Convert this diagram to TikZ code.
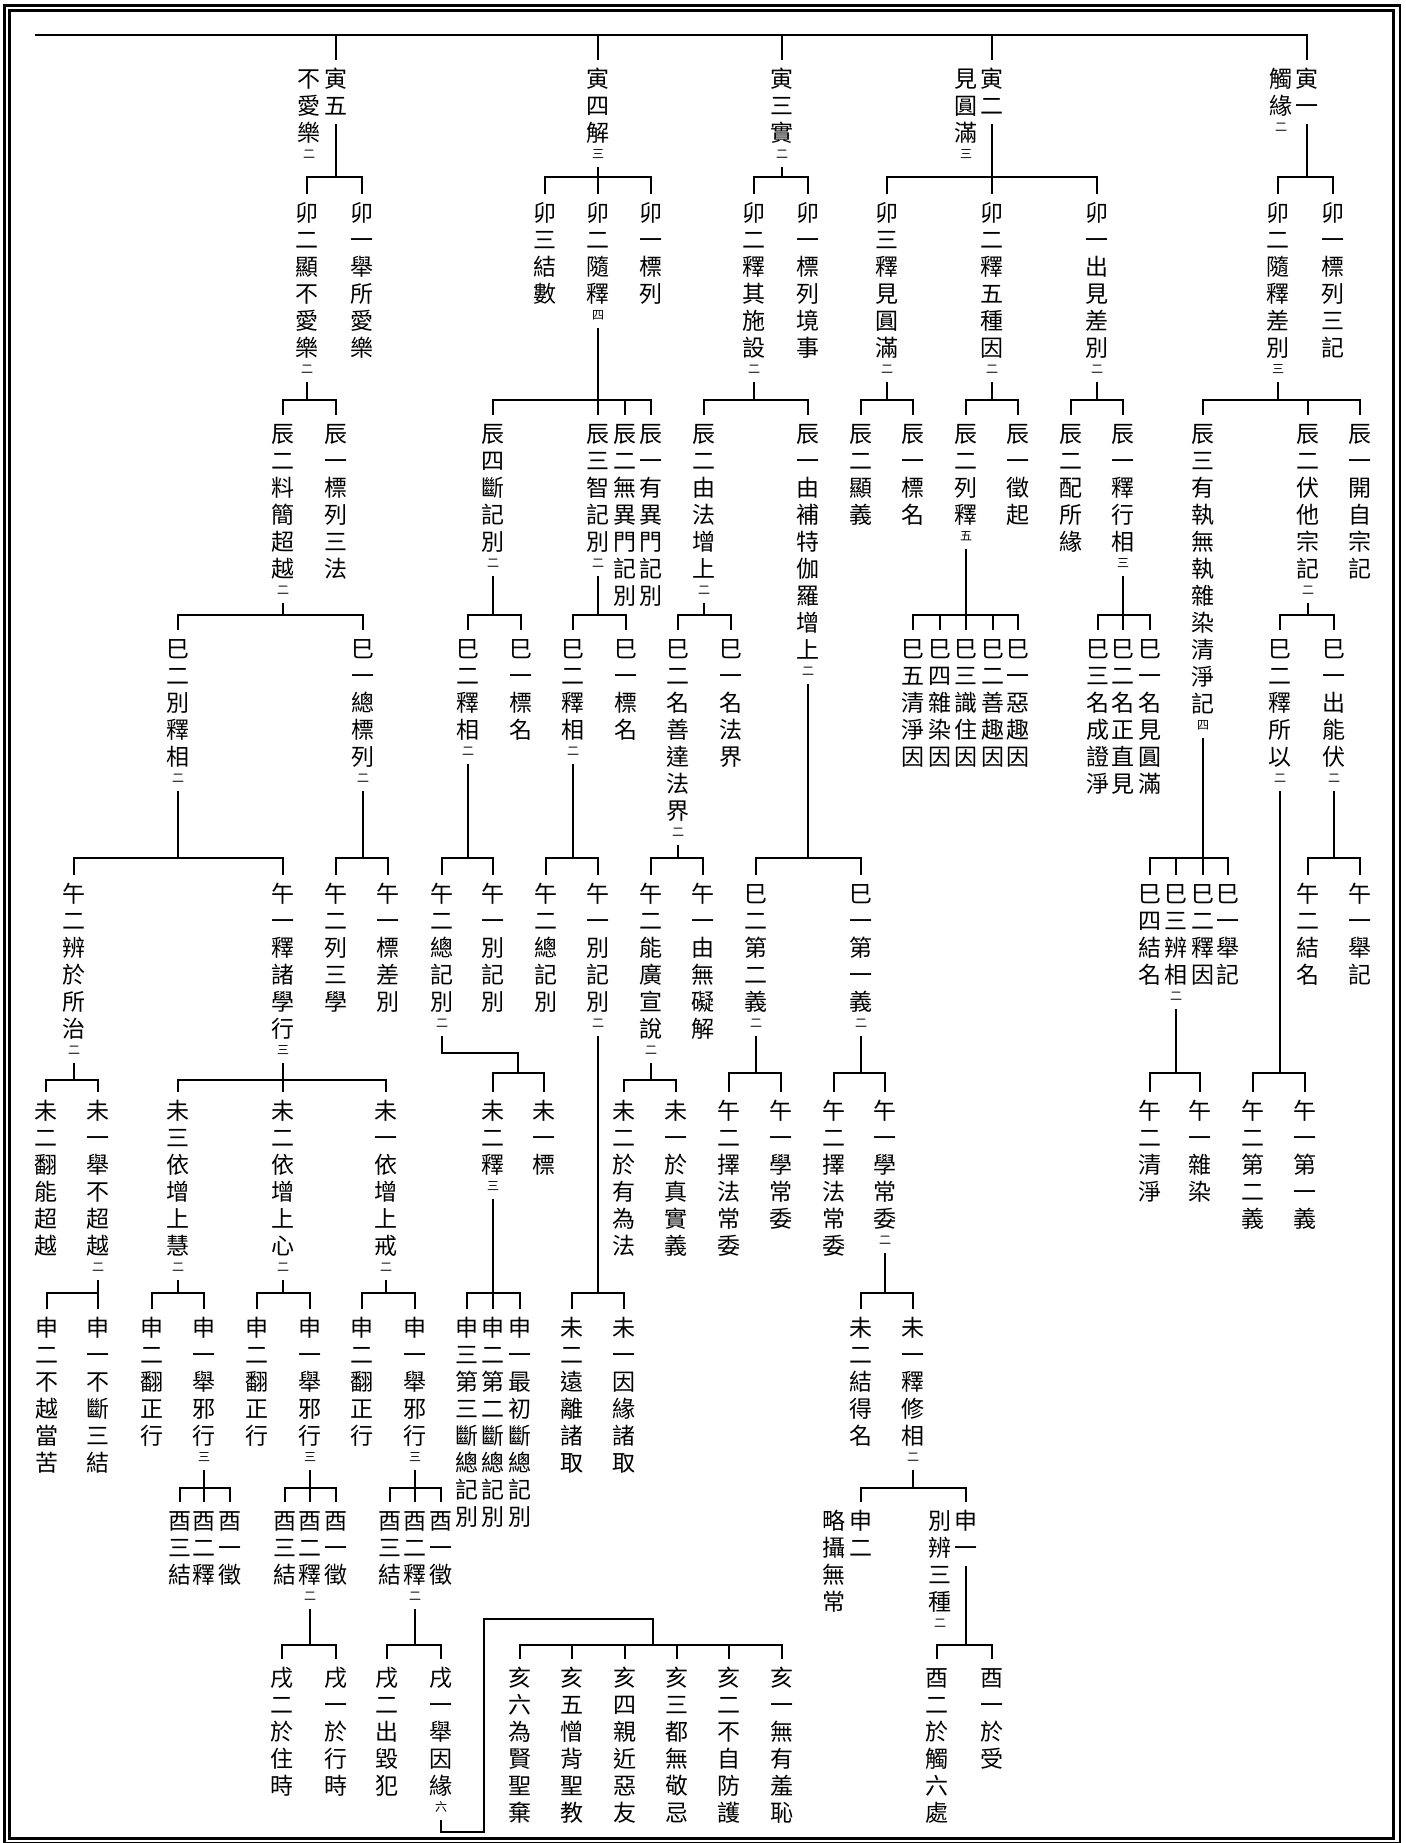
\documentclass[tikz,border=0pt]{standalone}
\usepackage{fontspec}
\newfontfamily\cjk{Noto Sans CJK TC}

\ExplSyntaxOn
\NewDocumentCommand \vcol { m o }
  {
    \vbox
      {
        \offinterlineskip
        \tl_map_inline:nn {#1} { \vcell {##1} }
        \IfValueT {#2} { \vsmall {#2} }
      }
  }
\ExplSyntaxOff
\newcommand\vcell[1]{\hbox to 12pt{\hss\rule[-2.4pt]{0pt}{13.5pt}#1\hss}}
\newcommand\vsmall[1]{\hbox to 12pt{\hss\fontsize{6}{0}\selectfont\rule[-1.7pt]{0pt}{8pt}#1\hss}}

\begin{document}
\begin{tikzpicture}[x=0.5pt, y=-0.5pt,
    every node/.style={font=\cjk\fontsize{11.5}{0}\selectfont},
    lbl/.style={anchor=north, inner sep=0pt, outer sep=2.5pt},
    br/.style={line width=1pt},
    frm/.style={line width=1.35pt}
]
\useasboundingbox (0,0) rectangle (1406,1843);
\draw[frm] (4.7,5.3) rectangle (1400,1843);
\draw[frm] (9.7,10.7) rectangle (1393.3,1838.7);

\coordinate (r) at (35,35);
\node[lbl] (n5)  at (336,60)  {\vcol{寅五}};
\node[lbl] (n5x) at (309,60)  {\vcol{不愛樂}[二]};
\node[lbl] (n4)  at (598,60)  {\vcol{寅四解}[三]};
\node[lbl] (n3)  at (782,60)  {\vcol{寅三實}[二]};
\node[lbl] (n2)  at (992,60)  {\vcol{寅二}};
\node[lbl] (n2x) at (966,60)  {\vcol{見圓滿}[三]};
\node[lbl] (n1)  at (1307,60) {\vcol{寅一}};
\node[lbl] (n1x) at (1281,60) {\vcol{觸緣}[二]};

\node[lbl] (n52) at (307,194)  {\vcol{卯二顯不愛樂}[二]};
\node[lbl] (n51) at (362,194)  {\vcol{卯一舉所愛樂}};
\node[lbl] (n43) at (545,194)  {\vcol{卯三結數}};
\node[lbl] (n42) at (598,194)  {\vcol{卯二隨釋}[四]};
\node[lbl] (n41) at (651,194)  {\vcol{卯一標列}};
\node[lbl] (n32) at (754,194)  {\vcol{卯二釋其施設}[二]};
\node[lbl] (n31) at (808,194)  {\vcol{卯一標列境事}};
\node[lbl] (n23) at (887,194)  {\vcol{卯三釋見圓滿}[二]};
\node[lbl] (n22) at (992,194)  {\vcol{卯二釋五種因}[二]};
\node[lbl] (n21) at (1097,194) {\vcol{卯一出見差別}[二]};
\node[lbl] (n12) at (1278,194) {\vcol{卯二隨釋差別}[三]};
\node[lbl] (n11) at (1333,194) {\vcol{卯一標列三記}};

\node[lbl] (n522) at (283,415)  {\vcol{辰二料簡超越}[二]};
\node[lbl] (n521) at (336,415)  {\vcol{辰一標列三法}};
\node[lbl] (n424) at (493,415)  {\vcol{辰四斷記別}[二]};
\node[lbl] (n423) at (598,415)  {\vcol{辰三智記別}[二]};
\node[lbl] (n422) at (625,415)  {\vcol{辰二無異門記別}};
\node[lbl] (n421) at (651,415)  {\vcol{辰一有異門記別}};
\node[lbl] (n322) at (704,415)  {\vcol{辰二由法增上}[二]};
\node[lbl] (n321) at (808,415)  {\vcol{辰一由補特伽羅增上}[二]};
\node[lbl] (n232) at (861,415)  {\vcol{辰二顯義}};
\node[lbl] (n231) at (913,415)  {\vcol{辰一標名}};
\node[lbl] (n222) at (966,415)  {\vcol{辰二列釋}[五]};
\node[lbl] (n221) at (1018,415) {\vcol{辰一徵起}};
\node[lbl] (n212) at (1071,415) {\vcol{辰二配所緣}};
\node[lbl] (n211) at (1123,415) {\vcol{辰一釋行相}[三]};
\node[lbl] (n123) at (1203,415) {\vcol{辰三有執無執雜染清淨記}[四]};
\node[lbl] (n122) at (1308,415) {\vcol{辰二伏他宗記}[二]};
\node[lbl] (n121) at (1360,415) {\vcol{辰一開自宗記}};

\node[lbl] (n5222) at (178,630)  {\vcol{巳二別釋相}[二]};
\node[lbl] (n5221) at (363,630)  {\vcol{巳一總標列}[二]};
\node[lbl] (n4242) at (468,630)  {\vcol{巳二釋相}[二]};
\node[lbl] (n4241) at (521,630)  {\vcol{巳一標名}};
\node[lbl] (n4232) at (573,630)  {\vcol{巳二釋相}[二]};
\node[lbl] (n4231) at (626,630)  {\vcol{巳一標名}};
\node[lbl] (n3222) at (678,630)  {\vcol{巳二名善達法界}[二]};
\node[lbl] (n3221) at (731,630)  {\vcol{巳一名法界}};
\node[lbl] (n3212) at (756,875)  {\vcol{巳二第二義}[二]};
\node[lbl] (n3211) at (861,875)  {\vcol{巳一第一義}[二]};
\node[lbl] (n2225) at (913,630)  {\vcol{巳五清淨因}};
\node[lbl] (n2224) at (940,630)  {\vcol{巳四雜染因}};
\node[lbl] (n2223) at (966,630)  {\vcol{巳三識住因}};
\node[lbl] (n2222) at (993,630)  {\vcol{巳二善趣因}};
\node[lbl] (n2221) at (1018,630) {\vcol{巳一惡趣因}};
\node[lbl] (n2113) at (1098,630) {\vcol{巳三名成證淨}};
\node[lbl] (n2112) at (1123,630) {\vcol{巳二名正直見}};
\node[lbl] (n2111) at (1150,630) {\vcol{巳一名見圓滿}};
\node[lbl] (n1234) at (1150,875) {\vcol{巳四結名}};
\node[lbl] (n1233) at (1176,875) {\vcol{巳三辨相}[二]};
\node[lbl] (n1232) at (1203,875) {\vcol{巳二釋因}};
\node[lbl] (n1231) at (1228,875) {\vcol{巳一舉記}};
\node[lbl] (n1222) at (1280,630) {\vcol{巳二釋所以}[二]};
\node[lbl] (n1221) at (1334,630) {\vcol{巳一出能伏}[二]};

\node[lbl] (n52222) at (74,875)   {\vcol{午二辨於所治}[二]};
\node[lbl] (n52221) at (283,875)  {\vcol{午一釋諸學行}[三]};
\node[lbl] (n52212) at (336,875)  {\vcol{午二列三學}};
\node[lbl] (n52211) at (388,875)  {\vcol{午一標差別}};
\node[lbl] (n42422) at (442,875)  {\vcol{午二總記別}[二]};
\node[lbl] (n42421) at (493,875)  {\vcol{午一別記別}};
\node[lbl] (n42322) at (546,875)  {\vcol{午二總記別}};
\node[lbl] (n42321) at (598,875)  {\vcol{午一別記別}[二]};
\node[lbl] (n32222) at (651,875)  {\vcol{午二能廣宣說}[二]};
\node[lbl] (n32221) at (703,875)  {\vcol{午一由無礙解}};
\node[lbl] (n32122) at (729,1092) {\vcol{午二擇法常委}};
\node[lbl] (n32121) at (781,1092) {\vcol{午一學常委}};
\node[lbl] (n32112) at (834,1092) {\vcol{午二擇法常委}};
\node[lbl] (n32111) at (885,1092) {\vcol{午一學常委}[二]};
\node[lbl] (n12332) at (1150,1092) {\vcol{午二清淨}};
\node[lbl] (n12331) at (1200,1092) {\vcol{午一雜染}};
\node[lbl] (n12222) at (1253,1092) {\vcol{午二第二義}};
\node[lbl] (n12221) at (1305,1092) {\vcol{午一第一義}};
\node[lbl] (n12212) at (1308,875) {\vcol{午二結名}};
\node[lbl] (n12211) at (1360,875) {\vcol{午一舉記}};

\node[lbl] (n522222) at (46,1092)  {\vcol{未二翻能超越}};
\node[lbl] (n522221) at (98,1092)  {\vcol{未一舉不超越}[二]};
\node[lbl] (n522213) at (178,1092) {\vcol{未三依增上慧}[二]};
\node[lbl] (n522212) at (283,1092) {\vcol{未二依增上心}[二]};
\node[lbl] (n522211) at (386,1092) {\vcol{未一依增上戒}[二]};
\node[lbl] (n424222) at (493,1092) {\vcol{未二釋}[三]};
\node[lbl] (n424221) at (544,1092) {\vcol{未一標}};
\node[lbl] (n423212) at (572,1309) {\vcol{未二遠離諸取}};
\node[lbl] (n423211) at (624,1309) {\vcol{未一因緣諸取}};
\node[lbl] (n322222) at (624,1092) {\vcol{未二於有為法}};
\node[lbl] (n322221) at (676,1092) {\vcol{未一於真實義}};
\node[lbl] (n321112) at (861,1309) {\vcol{未二結得名}};
\node[lbl] (n321111) at (913,1309) {\vcol{未一釋修相}[二]};

\node[lbl] (n5222212) at (47,1309)  {\vcol{申二不越當苦}};
\node[lbl] (n5222211) at (98,1309)  {\vcol{申一不斷三結}};
\node[lbl] (n5222132) at (152,1309) {\vcol{申二翻正行}};
\node[lbl] (n5222131) at (204,1309) {\vcol{申一舉邪行}[三]};
\node[lbl] (n5222122) at (257,1309) {\vcol{申二翻正行}};
\node[lbl] (n5222121) at (310,1309) {\vcol{申一舉邪行}[三]};
\node[lbl] (n5222112) at (362,1309) {\vcol{申二翻正行}};
\node[lbl] (n5222111) at (415,1309) {\vcol{申一舉邪行}[三]};
\node[lbl] (n4242223) at (467,1309) {\vcol{申三第三斷總記別}};
\node[lbl] (n4242222) at (493,1309) {\vcol{申二第二斷總記別}};
\node[lbl] (n4242221) at (520,1309) {\vcol{申一最初斷總記別}};
\node[lbl] (n3211112)  at (861,1502) {\vcol{申二}};
\node[lbl] (n3211112x) at (834,1502) {\vcol{略攝無常}};
\node[lbl] (n3211111)  at (966,1502) {\vcol{申一}};
\node[lbl] (n3211111x) at (940,1502) {\vcol{別辨三種}[二]};

\node[lbl] (n52221313) at (180,1502) {\vcol{酉三結}};
\node[lbl] (n52221312) at (204,1502) {\vcol{酉二釋}};
\node[lbl] (n52221311) at (230,1502) {\vcol{酉一徵}};
\node[lbl] (n52221213) at (285,1502) {\vcol{酉三結}};
\node[lbl] (n52221212) at (310,1502) {\vcol{酉二釋}[二]};
\node[lbl] (n52221211) at (336,1502) {\vcol{酉一徵}};
\node[lbl] (n52221113) at (390,1502) {\vcol{酉三結}};
\node[lbl] (n52221112) at (415,1502) {\vcol{酉二釋}[二]};
\node[lbl] (n52221111) at (441,1502) {\vcol{酉一徵}};
\node[lbl] (n32111112) at (937,1659) {\vcol{酉二於觸六處}};
\node[lbl] (n32111111) at (992,1659) {\vcol{酉一於受}};

\node[lbl] (n522212122) at (282,1659) {\vcol{戌二於住時}};
\node[lbl] (n522212121) at (336,1659) {\vcol{戌一於行時}};
\node[lbl] (n522211122) at (387,1659) {\vcol{戌二出毀犯}};
\node[lbl] (n522211121) at (441,1659) {\vcol{戌一舉因緣}[六]};

\node[lbl] (n5222111216) at (520,1659) {\vcol{亥六為賢聖棄}};
\node[lbl] (n5222111215) at (572,1659) {\vcol{亥五憎背聖教}};
\node[lbl] (n5222111214) at (625,1659) {\vcol{亥四親近惡友}};
\node[lbl] (n5222111213) at (677,1659) {\vcol{亥三都無敬忌}};
\node[lbl] (n5222111212) at (729,1659) {\vcol{亥二不自防護}};
\node[lbl] (n5222111211) at (782,1659) {\vcol{亥一無有羞恥}};

\foreach \c in {n5,n4,n3,n2,n1} \draw[br] (r) -| (\c.north);

\coordinate (n5j) at (336,177);
\coordinate (n4j) at (598,177);
\coordinate (n3j) at (782,177);
\coordinate (n2j) at (992,177);
\coordinate (n1j) at (1307,177);
\draw[br] (n5.south) -- (n5j); \foreach \c in {n52,n51} \draw[br] (n5j) -| (\c.north);
\draw[br] (n4.south) -- (n4j); \foreach \c in {n43,n42,n41} \draw[br] (n4j) -| (\c.north);
\draw[br] (n3.south) -- (n3j); \foreach \c in {n32,n31} \draw[br] (n3j) -| (\c.north);
\draw[br] (n2.south) -- (n2j); \foreach \c in {n23,n22,n21} \draw[br] (n2j) -| (\c.north);
\draw[br] (n1.south) -- (n1j); \foreach \c in {n12,n11} \draw[br] (n1j) -| (\c.north);

\coordinate (n52j) at (307,400);
\coordinate (n42j) at (598,400);
\coordinate (n32j) at (754,400);
\coordinate (n23j) at (887,400);
\coordinate (n22j) at (992,400);
\coordinate (n21j) at (1097,400);
\coordinate (n12j) at (1278,400);
\draw[br] (n52.south) -- (n52j); \foreach \c in {n522,n521} \draw[br] (n52j) -| (\c.north);
\draw[br] (n42.south) -- (n42j); \foreach \c in {n424,n423,n422,n421} \draw[br] (n42j) -| (\c.north);
\draw[br] (n32.south) -- (n32j); \foreach \c in {n322,n321} \draw[br] (n32j) -| (\c.north);
\draw[br] (n23.south) -- (n23j); \foreach \c in {n232,n231} \draw[br] (n23j) -| (\c.north);
\draw[br] (n22.south) -- (n22j); \foreach \c in {n222,n221} \draw[br] (n22j) -| (\c.north);
\draw[br] (n21.south) -- (n21j); \foreach \c in {n212,n211} \draw[br] (n21j) -| (\c.north);
\draw[br] (n12.south) -- (n12j); \foreach \c in {n123,n122,n121} \draw[br] (n12j) -| (\c.north);

\coordinate (n522j) at (283,615);
\coordinate (n424j) at (493,615);
\coordinate (n423j) at (598,615);
\coordinate (n322j) at (704,615);
\coordinate (n321j) at (808,858);
\coordinate (n222j) at (966,615);
\coordinate (n211j) at (1123,615);
\coordinate (n123j) at (1203,858);
\coordinate (n122j) at (1308,615);
\draw[br] (n522.south) -- (n522j); \foreach \c in {n5222,n5221} \draw[br] (n522j) -| (\c.north);
\draw[br] (n424.south) -- (n424j); \foreach \c in {n4242,n4241} \draw[br] (n424j) -| (\c.north);
\draw[br] (n423.south) -- (n423j); \foreach \c in {n4232,n4231} \draw[br] (n423j) -| (\c.north);
\draw[br] (n322.south) -- (n322j); \foreach \c in {n3222,n3221} \draw[br] (n322j) -| (\c.north);
\draw[br] (n321.south) -- (n321j); \foreach \c in {n3212,n3211} \draw[br] (n321j) -| (\c.north);
\draw[br] (n222.south) -- (n222j); \foreach \c in {n2225,n2224,n2223,n2222,n2221} \draw[br] (n222j) -| (\c.north);
\draw[br] (n211.south) -- (n211j); \foreach \c in {n2113,n2112,n2111} \draw[br] (n211j) -| (\c.north);
\draw[br] (n123.south) -- (n123j); \foreach \c in {n1234,n1233,n1232,n1231} \draw[br] (n123j) -| (\c.north);
\draw[br] (n122.south) -- (n122j); \foreach \c in {n1222,n1221} \draw[br] (n122j) -| (\c.north);

\coordinate (n5222j) at (178,858);
\coordinate (n5221j) at (363,858);
\coordinate (n4242j) at (468,858);
\coordinate (n4232j) at (573,858);
\coordinate (n3222j) at (678,858);
\coordinate (n3212j) at (756,1073);
\coordinate (n3211j) at (861,1073);
\coordinate (n1233j) at (1176,1073);
\coordinate (n1222j) at (1280,1073);
\coordinate (n1221j) at (1334,858);
\draw[br] (n5222.south) -- (n5222j); \foreach \c in {n52222,n52221} \draw[br] (n5222j) -| (\c.north);
\draw[br] (n5221.south) -- (n5221j); \foreach \c in {n52212,n52211} \draw[br] (n5221j) -| (\c.north);
\draw[br] (n4242.south) -- (n4242j); \foreach \c in {n42422,n42421} \draw[br] (n4242j) -| (\c.north);
\draw[br] (n4232.south) -- (n4232j); \foreach \c in {n42322,n42321} \draw[br] (n4232j) -| (\c.north);
\draw[br] (n3222.south) -- (n3222j); \foreach \c in {n32222,n32221} \draw[br] (n3222j) -| (\c.north);
\draw[br] (n3212.south) -- (n3212j); \foreach \c in {n32122,n32121} \draw[br] (n3212j) -| (\c.north);
\draw[br] (n3211.south) -- (n3211j); \foreach \c in {n32112,n32111} \draw[br] (n3211j) -| (\c.north);
\draw[br] (n1233.south) -- (n1233j); \foreach \c in {n12332,n12331} \draw[br] (n1233j) -| (\c.north);
\draw[br] (n1222.south) -- (n1222j); \foreach \c in {n12222,n12221} \draw[br] (n1222j) -| (\c.north);
\draw[br] (n1221.south) -- (n1221j); \foreach \c in {n12212,n12211} \draw[br] (n1221j) -| (\c.north);

\coordinate (n52222j) at (74,1080);
\coordinate (n52221j) at (283,1080);
\coordinate (n42422k) at (518,1053);
\coordinate (n42422j) at (518,1073);
\coordinate (n42321j) at (598,1293);
\coordinate (n32222j) at (651,1080);
\coordinate (n32111j) at (885,1293);
\draw[br] (n52222.south) -- (n52222j); \foreach \c in {n522222,n522221} \draw[br] (n52222j) -| (\c.north);
\draw[br] (n52221.south) -- (n52221j); \foreach \c in {n522213,n522212,n522211} \draw[br] (n52221j) -| (\c.north);
\draw[br] (n42422.south) |- (n42422k) -- (n42422j); \foreach \c in {n424222,n424221} \draw[br] (n42422j) -| (\c.north);
\draw[br] (n42321.south) -- (n42321j); \foreach \c in {n423212,n423211} \draw[br] (n42321j) -| (\c.north);
\draw[br] (n32222.south) -- (n32222j); \foreach \c in {n322222,n322221} \draw[br] (n32222j) -| (\c.north);
\draw[br] (n32111.south) -- (n32111j); \foreach \c in {n321112,n321111} \draw[br] (n32111j) -| (\c.north);

\coordinate (n522221j) at (98,1293);
\coordinate (n522213j) at (178,1293);
\coordinate (n522212j) at (283,1293);
\coordinate (n522211j) at (386,1293);
\coordinate (n424222j) at (493,1293);
\coordinate (n321111j) at (913,1488);
\draw[br] (n522221.south) -- (n522221j); \foreach \c in {n5222212,n5222211} \draw[br] (n522221j) -| (\c.north);
\draw[br] (n522213.south) -- (n522213j); \foreach \c in {n5222132,n5222131} \draw[br] (n522213j) -| (\c.north);
\draw[br] (n522212.south) -- (n522212j); \foreach \c in {n5222122,n5222121} \draw[br] (n522212j) -| (\c.north);
\draw[br] (n522211.south) -- (n522211j); \foreach \c in {n5222112,n5222111} \draw[br] (n522211j) -| (\c.north);
\draw[br] (n424222.south) -- (n424222j); \foreach \c in {n4242223,n4242222,n4242221} \draw[br] (n424222j) -| (\c.north);
\draw[br] (n321111.south) -- (n321111j); \foreach \c in {n3211112,n3211111} \draw[br] (n321111j) -| (\c.north);

\coordinate (n5222131j) at (204,1488);
\coordinate (n5222121j) at (310,1488);
\coordinate (n5222111j) at (415,1488);
\coordinate (n3211111j) at (966,1645);
\draw[br] (n5222131.south) -- (n5222131j); \foreach \c in {n52221313,n52221312,n52221311} \draw[br] (n5222131j) -| (\c.north);
\draw[br] (n5222121.south) -- (n5222121j); \foreach \c in {n52221213,n52221212,n52221211} \draw[br] (n5222121j) -| (\c.north);
\draw[br] (n5222111.south) -- (n5222111j); \foreach \c in {n52221113,n52221112,n52221111} \draw[br] (n5222111j) -| (\c.north);
\draw[br] (n3211111.south) -- (n3211111j); \foreach \c in {n32111112,n32111111} \draw[br] (n3211111j) -| (\c.north);

\coordinate (n52221212j) at (310,1645);
\coordinate (n52221112j) at (415,1645);
\draw[br] (n52221212.south) -- (n52221212j); \foreach \c in {n522212122,n522212121} \draw[br] (n52221212j) -| (\c.north);
\draw[br] (n52221112.south) -- (n52221112j); \foreach \c in {n522211122,n522211121} \draw[br] (n52221112j) -| (\c.north);

\coordinate (n522211121k) at (484,1832);
\coordinate (n522211121m) at (653,1619);
\coordinate (n522211121j) at (653,1645);
\draw[br] (n522211121.south) |- (n522211121k) |- (n522211121m) -- (n522211121j);
\foreach \c in {n5222111216,n5222111215,n5222111214,n5222111213,n5222111212,n5222111211} \draw[br] (n522211121j) -| (\c.north);
\end{tikzpicture}
\end{document}
